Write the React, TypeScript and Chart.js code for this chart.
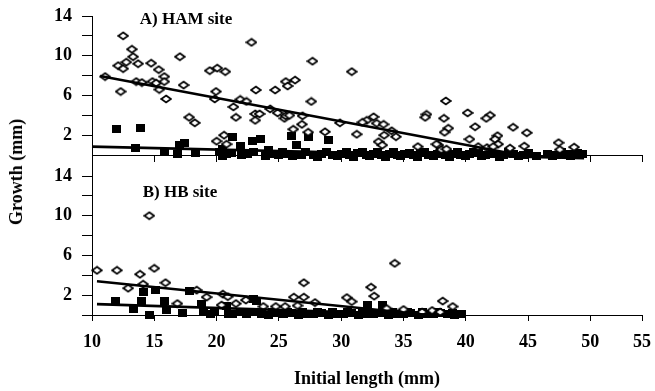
import React, { useEffect, useRef } from 'react';
import { Chart, registerables } from 'chart.js';

Chart.register(...registerables);

// ---- axes ----
const X_MIN = 10;
// the reference's last tick ("55") sits at the end of the axis line, a little short of a full 5-unit step
const X_AXIS_END = 54.15;
const X_STEP = 5;
const X_TICK_LABELS = ['10', '15', '20', '25', '30', '35', '40', '45', '50', '55'];
const Y_MAX = 14;
const Y_STEP = 2;
const Y_LABELED_TICKS = [2, 6, 10, 14];
const HAM_Y_MIN = -2;
const HB_Y_MIN = 0;

// ---- A) HAM site ----
const hamOpen: [number, number][] = [
  [12.5, 12.0], [13.2, 10.65], [13.3, 9.9], [12.75, 9.35], [12.1, 9.0], [12.5, 8.7],
  [13.7, 9.2], [14.75, 9.25], [15.35, 8.6], [15.8, 7.9], [11.05, 7.9], [13.55, 7.4],
  [14.0, 7.3], [14.85, 7.4], [15.15, 7.25], [15.8, 7.4], [15.4, 6.6], [12.3, 6.4],
  [15.95, 5.65], [17.05, 9.9], [17.35, 7.05], [17.8, 3.8], [18.25, 3.25], [22.8, 11.35],
  [19.45, 8.5], [20.05, 8.75], [20.7, 8.4], [19.95, 6.4], [19.85, 5.65], [21.9, 5.6],
  [22.4, 5.4], [21.35, 4.85], [23.15, 6.55], [21.55, 3.8], [23.1, 4.15], [23.45, 4.15],
  [23.1, 3.5], [24.7, 6.55], [25.55, 7.4], [26.3, 7.55], [25.7, 6.95], [27.7, 9.45],
  [24.3, 4.65], [24.9, 4.25], [25.45, 3.7], [25.55, 3.95], [25.85, 4.0], [26.9, 3.95],
  [27.6, 5.4], [26.85, 3.1], [26.15, 2.6], [27.35, 2.3], [28.7, 2.35], [29.9, 3.25],
  [30.85, 8.4], [31.25, 2.1], [20.6, 2.0], [20.0, 1.4], [20.8, 1.1],
  [38.4, 5.45], [36.85, 4.1], [36.75, 3.8], [38.25, 3.7], [40.15, 4.25], [41.95, 4.0],
  [41.65, 3.7], [40.75, 2.85], [38.6, 2.7], [38.3, 2.3], [40.3, 1.6], [43.8, 2.8],
  [44.9, 2.25], [42.55, 1.95], [42.35, 1.6], [42.6, 1.1], [47.45, 1.25], [48.7, 0.8],
  [32.6, 3.85], [32.05, 3.5], [31.7, 3.3], [32.85, 3.2], [33.4, 3.1], [33.45, 2.0],
  [34.05, 2.45], [34.4, 1.85], [33.0, 1.35], [33.3, 1.0], [36.15, 0.85], [37.8, 1.0],
  [38.05, 0.55], [41.0, 0.85], [41.7, 0.75], [42.2, 0.85], [43.55, 0.7], [44.7, 0.9],
  [47.55, 0.55], [38.45, 0.6], [37.65, 1.1],
];

const hamFilled: [number, number][] = [
  [12.0, 2.6], [13.9, 2.7], [13.5, 0.75], [15.8, 0.35], [16.9, 0.15], [17.0, 1.0],
  [17.4, 1.25], [18.3, 0.25], [20.2, 0.3], [20.5, 0.65], [20.8, 0.15], [21.3, 1.8],
  [21.9, 0.95], [22.0, 0.0], [22.5, 0.1], [22.9, 1.45], [23.5, 1.6], [24.2, 0.5],
  [24.6, 0.1], [25.0, 0.0], [25.6, 0.1], [26.0, 1.95], [26.4, 1.0], [26.8, 0.05],
  [27.4, 1.8], [27.8, 0.0], [28.4, 0.1], [29.0, 1.5], [29.3, 0.05], [30.0, 0.1],
  [30.7, 0.0], [31.3, 0.2], [32.0, 0.05], [32.6, 0.1], [33.2, 0.0], [33.9, 0.15],
  [34.5, 0.05], [35.1, 0.1], [35.8, 0.0], [36.4, 0.2], [37.0, 0.05], [37.7, 0.1],
  [38.4, 0.0], [39.0, 0.15], [39.6, 0.05], [40.3, 0.1], [41.0, 0.2], [41.6, 0.0],
  [42.3, 0.1], [43.0, 0.05], [43.8, 0.15], [44.6, 0.0], [45.7, -0.05], [46.6, 0.1],
  [47.3, 0.05], [48.0, 0.15], [48.7, 0.1], [49.4, 0.1],
  // points packed inside the dense band near zero
  [20.5, -0.1], [21.2, 0.25], [23.0, 0.3], [23.9, -0.1], [25.3, 0.3], [26.1, -0.1],
  [27.1, 0.3], [28.1, -0.15], [28.8, 0.3], [29.7, -0.1], [30.4, 0.3], [31.0, -0.15],
  [31.7, 0.3], [32.3, -0.1], [32.9, 0.3], [33.6, -0.15], [34.2, 0.3], [34.8, -0.1],
  [35.5, 0.25], [36.1, -0.15], [36.7, 0.3], [37.4, -0.1], [38.0, 0.3], [38.7, -0.15],
  [39.3, 0.3], [40.0, -0.1], [40.6, 0.3], [41.3, -0.1], [42.0, 0.3], [42.7, -0.15],
  [43.4, 0.3], [44.2, -0.1], [45.0, 0.2], [47.0, -0.1], [47.7, 0.3], [48.4, -0.1],
  [49.0, 0.2],
];

const hamOpenFit: [number, number][] = [[10.65, 7.97], [44.0, 0.08]];
const hamFilledFit: [number, number][] = [[10.0, 0.86], [49.5, -0.31]];

// ---- B) HB site ----
const hbOpen: [number, number][] = [
  [10.4, 4.5], [12.0, 4.5], [12.9, 2.7], [13.85, 4.1], [14.1, 3.1], [14.6, 10.0],
  [15.0, 4.7], [15.9, 3.25], [16.85, 1.15], [18.4, 2.5], [19.2, 1.8], [20.4, 1.0],
  [20.5, 2.1], [20.9, 1.85], [21.55, 1.15], [22.35, 1.5], [23.75, 0.85], [24.75, 0.85],
  [25.5, 0.85], [26.2, 1.8], [26.5, 0.95], [27.0, 3.25], [27.0, 1.8], [27.9, 1.25],
  [30.45, 1.75], [30.85, 1.35], [32.4, 2.8], [32.65, 1.9], [33.65, 0.65], [34.3, 5.2],
  [35.0, 0.55], [36.5, 0.3], [37.3, 0.45], [37.95, 0.3], [38.15, 1.4], [38.95, 0.85],
];

const hbFilled: [number, number][] = [
  [11.9, 1.45], [13.3, 0.65], [14.0, 1.45], [14.1, 2.35], [14.6, 0.0], [15.1, 2.55],
  [15.85, 1.45], [16.0, 0.5], [17.3, 0.25], [17.85, 2.45], [18.8, 1.1], [18.95, 0.35],
  [19.5, 0.1], [20.8, 0.9], [20.95, 0.1], [21.9, 0.3], [22.4, 0.1], [22.95, 1.6],
  [23.2, 1.4], [23.6, 0.15], [24.2, 0.05], [24.8, 0.2], [25.4, 0.1], [26.0, 0.2],
  [26.6, 0.05], [27.2, 0.15], [27.8, 0.1], [28.4, 0.2], [29.0, 0.05], [29.6, 0.15],
  [30.2, 0.1], [30.8, 0.2], [31.4, 0.05], [32.0, 0.15], [32.15, 1.0], [32.6, 0.1],
  [33.3, 1.0], [33.2, 0.2], [33.8, 0.05], [34.4, 0.15], [35.0, 0.1], [35.6, 0.2],
  [36.2, 0.05], [36.8, 0.15], [37.4, 0.1], [38.0, 0.2], [38.5, 0.15], [39.1, 0.05],
  [39.7, 0.1],
  // points packed inside the dense band near zero
  [19.8, 0.3], [21.3, 0.1], [22.9, 0.3], [24.5, 0.3], [25.7, 0.3], [26.9, 0.3],
  [28.1, 0.3], [29.3, 0.3], [30.5, 0.3], [31.7, 0.3], [34.1, 0.3], [35.3, 0.3],
  [36.5, 0.3], [37.7, 0.3], [38.9, 0.25],
];

const hbOpenFit: [number, number][] = [[10.4, 3.4], [37.0, 0.0]];
const hbFilledFit: [number, number][] = [[10.4, 1.1], [37.0, 0.02]];

const FONT = '"Liberation Serif", "Times New Roman", Times, serif';

function makeDiamond(): HTMLCanvasElement {
  const c = document.createElement('canvas');
  c.width = 12;
  c.height = 10;
  const g = c.getContext('2d')!;
  g.beginPath();
  g.moveTo(6, 1.6);
  g.lineTo(10.9, 5);
  g.lineTo(6, 8.4);
  g.lineTo(1.1, 5);
  g.closePath();
  g.fillStyle = '#ffffff';
  g.fill();
  g.lineWidth = 1.8;
  g.strokeStyle = '#000000';
  g.stroke();
  return c;
}

function makeSquare(): HTMLCanvasElement {
  const c = document.createElement('canvas');
  c.width = 9;
  c.height = 8;
  const g = c.getContext('2d')!;
  g.fillStyle = '#000000';
  g.fillRect(0, 0, 9, 8);
  return c;
}

const toPts = (arr: [number, number][]) => arr.map(([x, y]) => ({ x, y }));

type Pad = { top: number; right: number; bottom: number; left: number };

function panelConfig(p: {
  open: [number, number][];
  filled: [number, number][];
  openFit: [number, number][];
  filledFit: [number, number][];
  yMin: number;
  hideTicksUpTo: number | null;
  bottomAxis: boolean;
  diamond: HTMLCanvasElement;
  square: HTMLCanvasElement;
  pad: Pad;
}): any {
  const lineDs = (d: [number, number][]) => ({
    data: toPts(d),
    showLine: true,
    borderColor: '#000',
    borderWidth: 2.6,
    pointRadius: 0,
    fill: false,
    clip: false,
  });
  return {
    type: 'scatter',
    data: {
      datasets: [
        lineDs(p.openFit),
        lineDs(p.filledFit),
        { data: toPts(p.open), pointStyle: p.diamond, pointRadius: 4, clip: false },
        { data: toPts(p.filled), pointStyle: p.square, pointRadius: 4, clip: false },
      ],
    },
    options: {
      animation: false,
      responsive: false,
      maintainAspectRatio: false,
      events: [],
      layout: { padding: { ...p.pad } },
      plugins: {
        legend: { display: false },
        tooltip: { enabled: false },
        title: { display: false },
      },
      scales: {
        x: {
          type: 'linear',
          min: X_MIN,
          max: X_AXIS_END,
          position: p.bottomAxis ? 'bottom' : { y: 0 },
          afterBuildTicks: (s: any) => {
            const vals: { value: number }[] = [];
            for (let v = X_MIN; v < X_AXIS_END - 1; v += X_STEP) vals.push({ value: v });
            vals.push({ value: X_AXIS_END });
            s.ticks = vals;
          },
          ticks: {
            autoSkip: false,
            maxRotation: 0,
            minRotation: 0,
            display: p.bottomAxis,
            padding: 11,
            color: '#000',
            font: { family: FONT, size: 18, weight: 'bold' },
            callback: (_v: any, i: number) => X_TICK_LABELS[i] ?? '',
          },
          grid: {
            drawOnChartArea: false,
            drawTicks: true,
            tickLength: 6,
            color: '#000',
            lineWidth: 1,
          },
          border: { display: true, color: '#000', width: 1 },
          title: p.bottomAxis
            ? {
                display: true,
                text: 'Initial length (mm)',
                color: '#000',
                font: { family: FONT, size: 18, weight: 'bold' },
                padding: { top: 0, bottom: 1 },
              }
            : { display: false },
          afterFit: (s: any) => {
            s.height = p.bottomAxis ? 76 : 0;
            s.paddingLeft = 0;
            s.paddingRight = 0;
            s.paddingTop = 0;
            s.paddingBottom = 0;
          },
        },
        y: {
          type: 'linear',
          min: p.yMin,
          max: Y_MAX,
          ticks: {
            stepSize: Y_STEP,
            autoSkip: false,
            padding: 10,
            color: '#000',
            font: { family: FONT, size: 18, weight: 'bold' },
            callback: (v: any) => (Y_LABELED_TICKS.includes(Number(v)) ? String(v) : ''),
          },
          grid: {
            drawOnChartArea: false,
            drawTicks: true,
            tickLength: 10,
            lineWidth: 1,
            color: '#000',
            tickColor: (ctx: any) =>
              p.hideTicksUpTo !== null && ctx.tick && ctx.tick.value <= p.hideTicksUpTo
                ? 'rgba(0,0,0,0)'
                : '#000',
          },
          border: { display: true, color: '#000', width: 1 },
          afterFit: (s: any) => {
            s.width = 92;
            s.paddingLeft = 0;
            s.paddingRight = 0;
            s.paddingTop = 0;
            s.paddingBottom = 0;
          },
        },
      },
    },
  };
}

const labelStyle = (cx: number, cy: number, size: number): React.CSSProperties => ({
  position: 'absolute',
  left: cx,
  top: cy,
  transform: 'translate(-50%, -50%)',
  fontFamily: FONT,
  fontWeight: 'bold',
  fontSize: size,
  lineHeight: `${size}px`,
  whiteSpace: 'nowrap',
  color: '#000',
});

export default function App() {
  const topRef = useRef<HTMLCanvasElement>(null);
  const botRef = useRef<HTMLCanvasElement>(null);

  useEffect(() => {
    document.body.style.margin = '0';
    const diamond = makeDiamond();
    const square = makeSquare();
    const top = new Chart(
      topRef.current!,
      panelConfig({
        open: hamOpen,
        filled: hamFilled,
        openFit: hamOpenFit,
        filledFit: hamFilledFit,
        yMin: HAM_Y_MIN,
        hideTicksUpTo: 0,
        bottomAxis: false,
        diamond,
        square,
        pad: { top: 16, right: 13, bottom: 3, left: 0 },
      })
    );
    const bottom = new Chart(
      botRef.current!,
      panelConfig({
        open: hbOpen,
        filled: hbFilled,
        openFit: hbOpenFit,
        filledFit: hbFilledFit,
        yMin: HB_Y_MIN,
        hideTicksUpTo: null,
        bottomAxis: true,
        diamond,
        square,
        pad: { top: 16, right: 13, bottom: 0, left: 0 },
      })
    );
    return () => {
      top.destroy();
      bottom.destroy();
    };
  }, []);

  return (
    <div style={{ position: 'relative', width: 655, height: 391, overflow: 'hidden', background: '#fff' }}>
      <style>{'body{margin:0}'}</style>
      <canvas ref={topRef} width={655} height={180} style={{ position: 'absolute', left: 0, top: 0, width: 655, height: 180 }} />
      <canvas ref={botRef} width={655} height={231} style={{ position: 'absolute', left: 0, top: 160, width: 655, height: 231 }} />
      <div style={labelStyle(186, 18, 17)}>A) HAM site</div>
      <div style={labelStyle(180, 191, 17)}>B) HB site</div>
      <div style={{ ...labelStyle(16, 172, 18), transform: 'translate(-50%, -50%) rotate(-90deg)' }}>Growth (mm)</div>
    </div>
  );
}
